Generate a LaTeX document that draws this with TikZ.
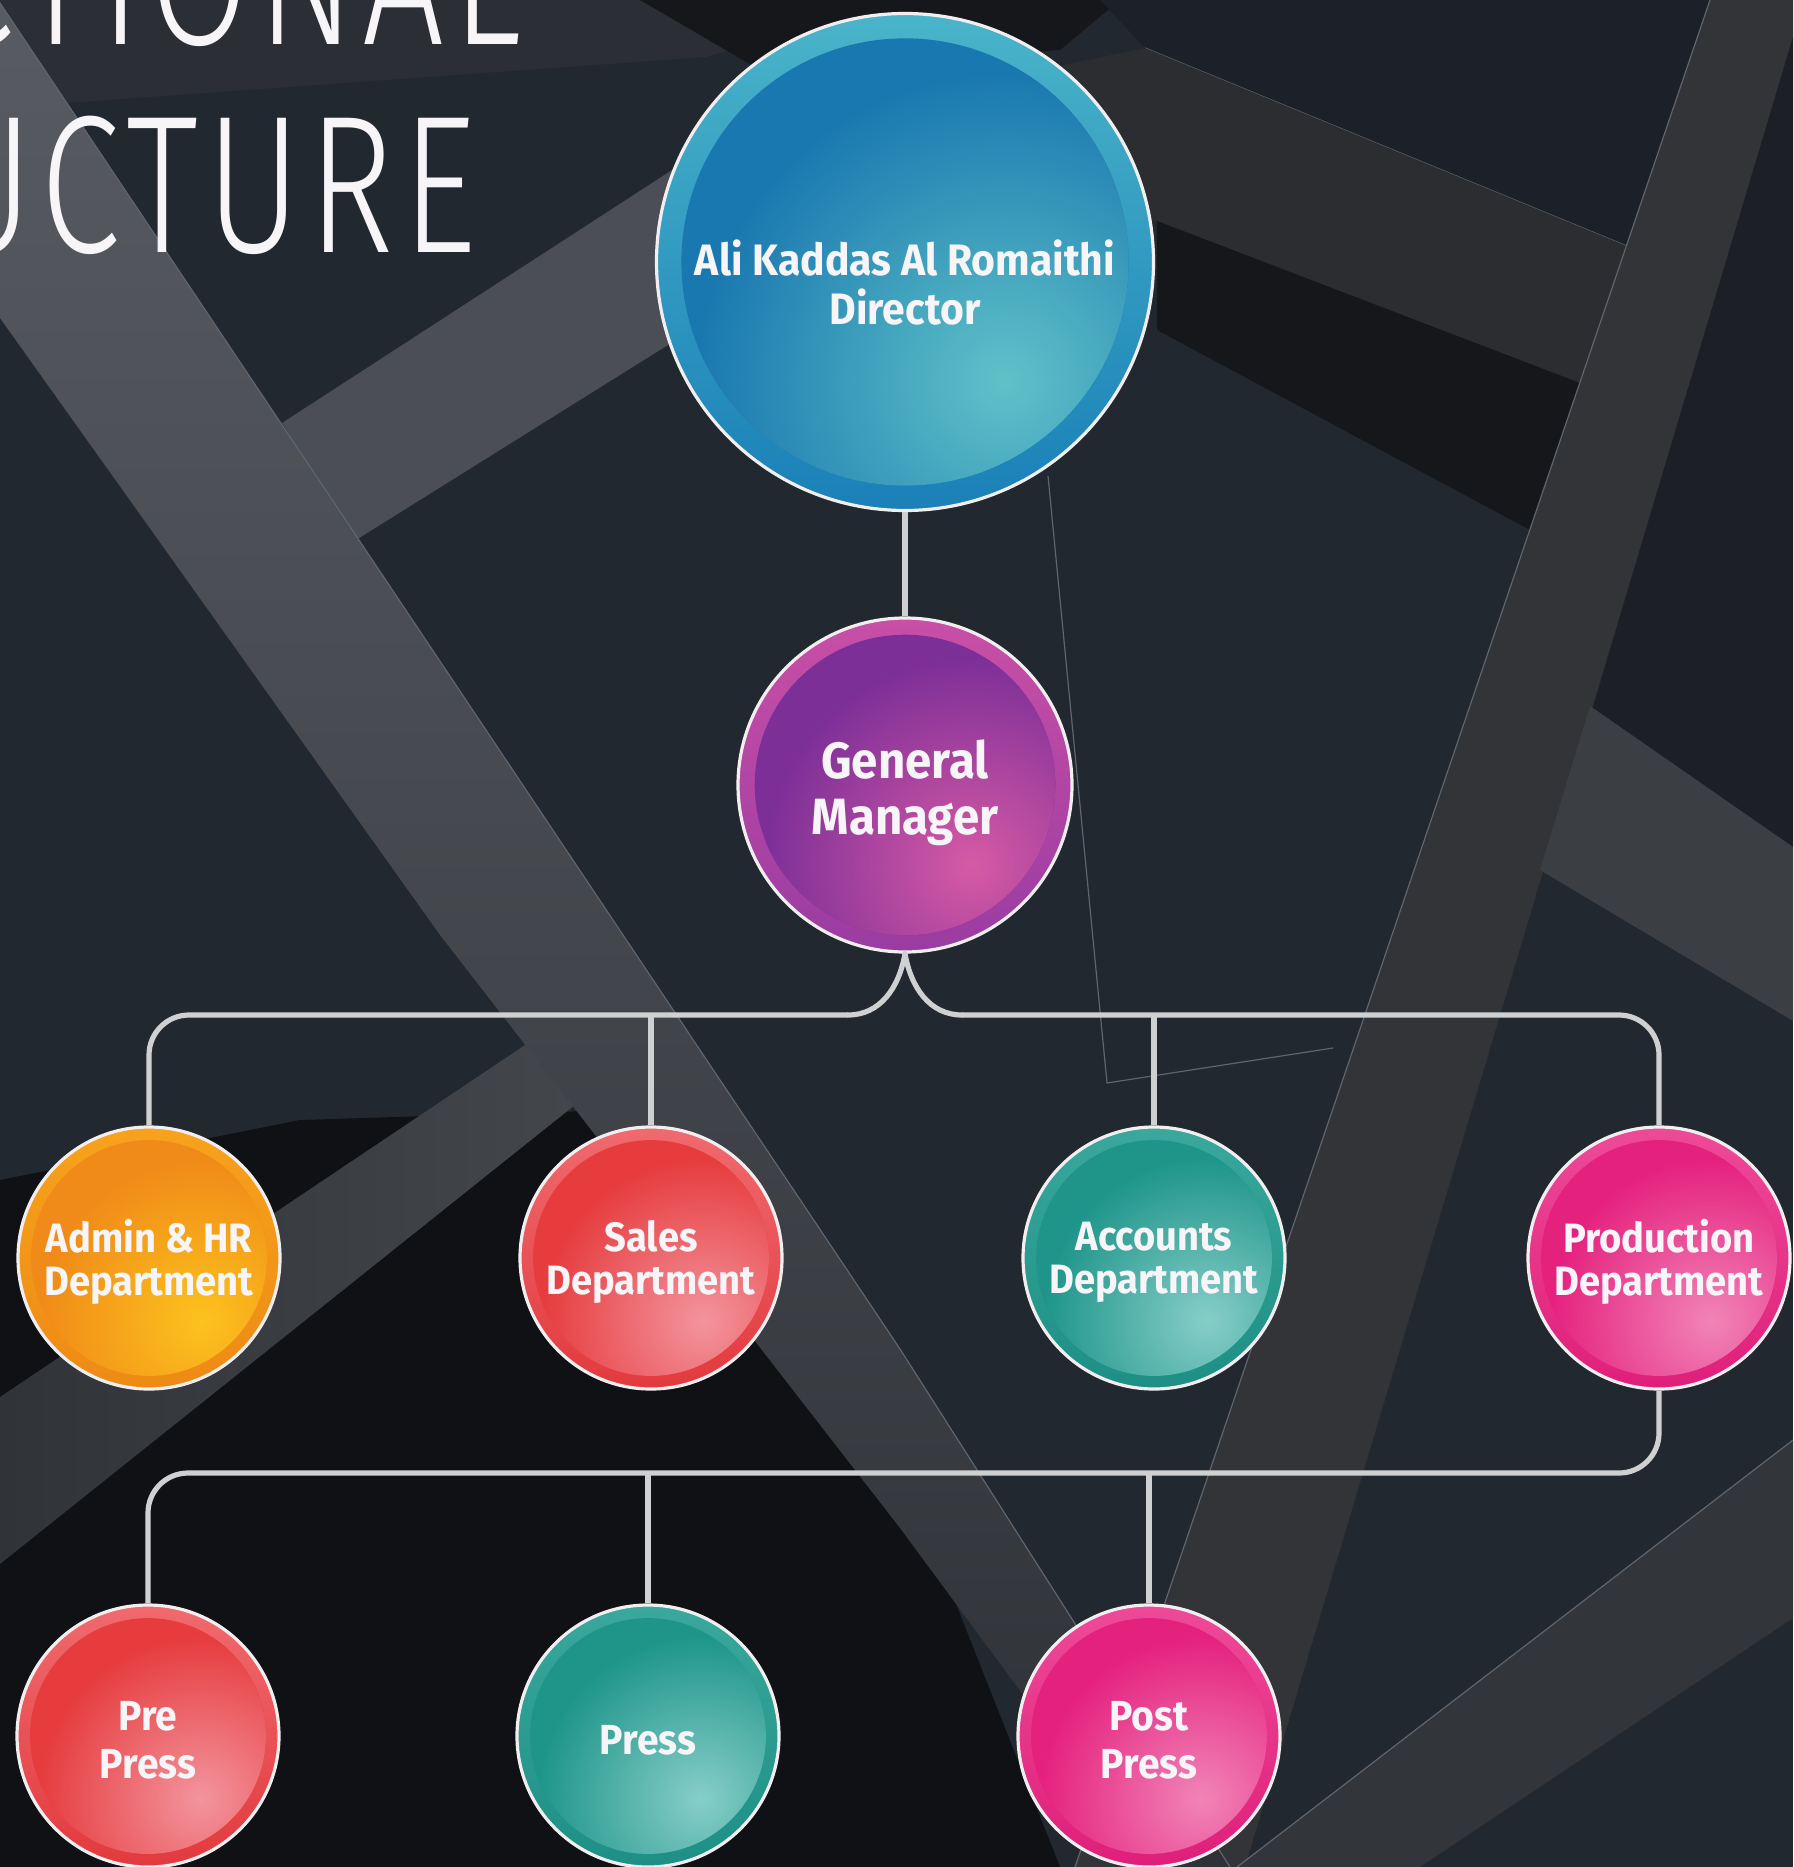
\documentclass[tikz,border=0pt]{standalone}
\usepackage{fontspec}
\newfontfamily\nodefont[FakeStretch=0.93]{Fira Sans}
\newfontfamily\titlefont[FakeStretch=0.74,LetterSpace=4]{Fira Sans Light}
\usetikzlibrary{calc}
\definecolor{bgbase}{HTML}{222830}
\definecolor{bgchar}{HTML}{2B2E34}
\definecolor{bgchartwo}{HTML}{2C2D31}
\definecolor{bgblack}{HTML}{15171B}
\definecolor{bgblacktwo}{HTML}{0F1114}
\definecolor{bgnavy}{HTML}{1B2029}
\definecolor{bgbandE}{HTML}{323438}
\definecolor{bgright}{HTML}{1C1F25}
\definecolor{bgJ}{HTML}{3B3E43}
\definecolor{bgF}{HTML}{32353A}
\definecolor{bandAtop}{HTML}{585B61}
\definecolor{bandAbot}{HTML}{2E3136}
\definecolor{bandB}{HTML}{4B4E54}
\definecolor{bandCl}{HTML}{303338}
\definecolor{bandCr}{HTML}{44474C}
\definecolor{edgec}{HTML}{5E656E}
\definecolor{connc}{HTML}{CFD0D2}
\definecolor{orbline}{HTML}{F2EEF0}
\definecolor{txtc}{HTML}{F8F5F8}
% director
\definecolor{dirbase}{HTML}{1A78B0}
\definecolor{dirhl}{HTML}{5FC2C8}
\definecolor{dirtop}{HTML}{49B4C9}
\definecolor{dirbot}{HTML}{1A80B8}
% general manager
\definecolor{gmbase}{HTML}{7D2F98}
\definecolor{gmhl}{HTML}{D65AA5}
\definecolor{gmtop}{HTML}{C94FA6}
\definecolor{gmbot}{HTML}{9A3CA2}
% admin
\definecolor{adbase}{HTML}{F08A18}
\definecolor{adhl}{HTML}{FCC21E}
\definecolor{adtop}{HTML}{F7A21C}
\definecolor{adbot}{HTML}{EE8A14}
% sales / pre press
\definecolor{sabase}{HTML}{E63C3E}
\definecolor{sahl}{HTML}{F3949D}
\definecolor{satop}{HTML}{F06A6E}
\definecolor{sabot}{HTML}{E23A3E}
% accounts / press
\definecolor{acbase}{HTML}{1F958A}
\definecolor{achl}{HTML}{86CEC8}
\definecolor{actop}{HTML}{3AA89C}
\definecolor{acbot}{HTML}{1D8F84}
% production / post press
\definecolor{prbase}{HTML}{E5217E}
\definecolor{prhl}{HTML}{F184B7}
\definecolor{prtop}{HTML}{EE4A98}
\definecolor{prbot}{HTML}{DF1F7A}
\tikzset{
  orb/.style n args={5}{circle, inner sep=0pt, minimum size=#1, draw=orbline, line width=1.6pt,
    path picture={
      \coordinate (ppc) at (path picture bounding box.center);
      \shade[top color=#4, bottom color=#5] ($(ppc)+(-0.5*#1,0.5*#1)$) rectangle ($(ppc)+(0.5*#1,-0.5*#1)$);
      \begin{scope}
        \clip (ppc) circle (0.45*#1);
        \fill[#2] ($(ppc)+(-0.5*#1,0.5*#1)$) rectangle ($(ppc)+(0.5*#1,-0.5*#1)$);
        \shade[inner color=#3, outer color=#2] ($(ppc)+(0.2*#1,-0.24*#1)$) circle (0.62*#1);
      \end{scope}
    }},
  otext/.style={text=txtc, align=center, inner sep=0pt},
  conn/.style={draw=connc, line width=2.6pt, rounded corners=20pt},
  curvelink/.style={draw=connc, line width=2.6pt, line cap=round},
  edgeln/.style={draw=edgec, line width=0.6pt},
  ttl/.style={text=txtc, inner sep=0pt, anchor=base east, font=\titlefont\fontsize{98}{100}\selectfont}
}
\begin{document}
\begin{tikzpicture}[x=0.5pt,y=-0.5pt]
\useasboundingbox (0,0) rectangle (1793,1867);
\clip (0,0) rectangle (1793,1867);
% ---------- background ----------
\fill[bgbase] (0,0) rectangle (1793,1867);
\fill[bgchar] (0,0) -- (900,0) -- (706,57) -- (52,104) -- (0,110) -- cycle;
\fill[bgblack] (640,0) -- (1120,0) -- (1060,50) -- (760,70) -- cycle;
\fill[bgnavy] (1100,0) -- (1743,0) -- (1651,256) -- (1145,48) -- cycle;
\draw[edgeln] (1145,48) -- (1651,256) -- (1743,0);
\fill[bgchartwo] (1040,70) -- (1145,48) -- (1651,256) -- (1593,388) -- (1157,221) -- (1080,215) -- cycle;
\fill[bgblack] (1157,221) -- (1593,388) -- (1530,530) -- (1157,330) -- cycle;
\fill[bgbandE] (1710,0) -- (1804,0) -- (1245,1867) -- (1075,1867) -- cycle;
\draw[edgeln] (1710,0) -- (1075,1867);
\fill[bgright] (1793,37) -- (1793,847) -- (1593,708) -- cycle;
\fill[bgJ] (1590,706) -- (1793,847) -- (1793,1021) -- (1540,870) -- cycle;
\fill[bgF] (1237,1867) -- (1420,1867) -- (1793,1618) -- (1793,1440) -- cycle;
\draw[edgeln] (1237,1867) -- (1793,1440);
\draw[edgeln] (1048,476) -- (1107,1083) -- (1333,1048);
\fill[bgblacktwo] (0,1180) -- (300,1120) -- (620,1110) -- (820,1260) -- (1060,1867) -- (0,1867) -- cycle;
\shade[left color=bandCl, right color=bandCr] (0,1397) -- (534,1039) -- (600,1085) -- (0,1564) -- cycle;
\shade[top color=bandAtop, bottom color=bandAbot] (-2,0) -- (621,932) -- (900,1349) -- (1230,1867) -- (1150,1867) -- (900,1528) -- (440,935) -- (-40,262) -- cycle;
\fill[bandB] (282,423) -- (780,100) -- (780,275) -- (356,540) -- cycle;
\draw[edgeln] (-2,0) -- (621,932) -- (900,1349) -- (1230,1867);
% ---------- title ----------
\node[ttl] (t1) at (522,45) {CTIONAL};
\node[ttl] (t2) at (477,253) {UCTURE};
% ---------- nodes ----------
\node[orb={248.5pt}{dirbase}{dirhl}{dirtop}{dirbot}] (dir) at (905,262) {};
\node[orb={167pt}{gmbase}{gmhl}{gmtop}{gmbot}] (gm) at (905,785) {};
\node[orb={131pt}{adbase}{adhl}{adtop}{adbot}] (adm) at (149,1258) {};
\node[orb={131pt}{sabase}{sahl}{satop}{sabot}] (sal) at (651,1258) {};
\node[orb={131pt}{acbase}{achl}{actop}{acbot}] (acc) at (1154,1258) {};
\node[orb={131pt}{prbase}{prhl}{prtop}{prbot}] (prod) at (1659,1258) {};
\node[orb={131pt}{sabase}{sahl}{satop}{sabot}] (pre) at (148,1736) {};
\node[orb={131pt}{acbase}{achl}{actop}{acbot}] (prs) at (648,1736) {};
\node[orb={131pt}{prbase}{prhl}{prtop}{prbot}] (pst) at (1149,1736) {};
% ---------- labels ----------
\node[otext, font=\nodefont\bfseries\fontsize{22}{24.5}\selectfont] (dirt) at ([yshift=-10.5pt]dir.center) {Ali Kaddas Al Romaithi\\Director};
\node[otext, font=\nodefont\bfseries\fontsize{25.5}{28}\selectfont] (gmt) at ([yshift=-4pt]gm.center) {General\\Manager};
\node[otext, font=\nodefont\bfseries\fontsize{20.5}{21.5}\selectfont] (admt) at ([yshift=-2pt]adm.center) {Admin \& HR\\Department};
\node[otext, font=\nodefont\bfseries\fontsize{20.5}{21.5}\selectfont] (salt) at ([yshift=-2pt]sal.center) {Sales\\Department};
\node[otext, font=\nodefont\bfseries\fontsize{20.5}{21.5}\selectfont] (acct) at ([yshift=-2pt]acc.center) {Accounts\\Department};
\node[otext, font=\nodefont\bfseries\fontsize{20.5}{21.5}\selectfont] (prodt) at ([yshift=-2pt]prod.center) {Production\\Department};
\node[otext, font=\nodefont\bfseries\fontsize{21}{24}\selectfont] (pret) at ([yshift=-2pt]pre.center) {Pre\\Press};
\node[otext, font=\nodefont\bfseries\fontsize{21}{24}\selectfont] (prst) at ([yshift=-2pt]prs.center) {Press};
\node[otext, font=\nodefont\bfseries\fontsize{21}{24}\selectfont] (pstt) at ([yshift=-2pt]pst.center) {Post\\Press};
% ---------- connectors ----------
\coordinate (b2l) at (848,1015);
\coordinate (b2r) at (962,1015);
\coordinate (b3) at (900,1473);
\draw[conn] (dir.south) -- (gm.north);
\draw[conn] (adm.north) |- (b2l);
\draw[conn] (prod.north) |- (b2r);
\draw[curvelink] (b2l) .. controls (880,1015) and (899,988) .. (gm.south);
\draw[curvelink] (b2r) .. controls (930,1015) and (911,988) .. (gm.south);
\draw[conn] (sal.north) -- (sal.north |- b2l);
\draw[conn] (acc.north) -- (acc.north |- b2l);
\draw[conn] (prod.south) |- (b3) -| (pre.north);
\draw[conn] (prs.north) -- (prs.north |- b3);
\draw[conn] (pst.north) -- (pst.north |- b3);
\end{tikzpicture}
\end{document}
